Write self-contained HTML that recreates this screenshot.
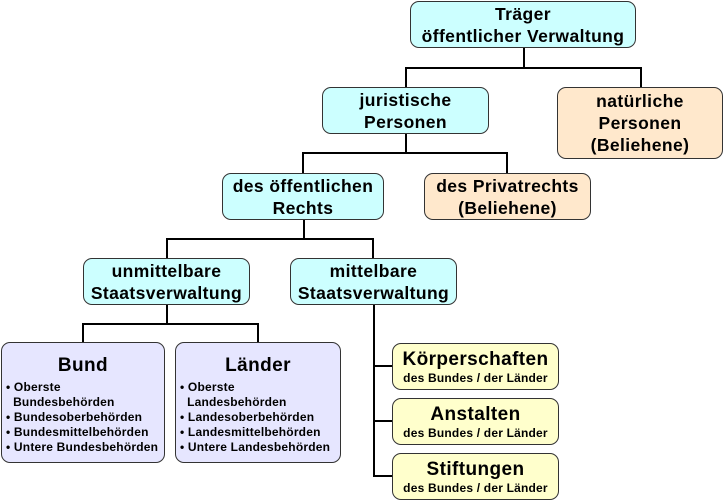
<!DOCTYPE html>
<html><head><meta charset="utf-8"><style>
body{margin:0;width:723px;height:502px;background:#fff;position:relative;overflow:hidden;font-family:"Liberation Sans",Arial,sans-serif;font-weight:bold;color:#000}
.b{position:absolute;box-sizing:border-box;border:1px solid #333;border-radius:9px;display:flex;flex-direction:column;justify-content:center;align-items:center;text-align:center;font-size:17.5px;line-height:22px;letter-spacing:0.4px;white-space:nowrap}
.c{background:#ccffff}.p{background:#ffe8cc}.l{background:#e6e6ff}.y{background:#ffffcc}
.h{position:absolute;background:#000}
.s{font-size:12px;line-height:14px;letter-spacing:0.2px}
.list{font-size:12px;line-height:15px;text-align:left;align-self:flex-start;margin-left:4px;letter-spacing:0.2px}
</style></head><body>
<div class="h" style="left:523px;top:47px;width:2px;height:21px"></div>
<div class="h" style="left:405px;top:67px;width:237px;height:2px"></div>
<div class="h" style="left:405px;top:67px;width:2px;height:20px"></div>
<div class="h" style="left:640px;top:67px;width:2px;height:20px"></div>
<div class="h" style="left:405px;top:134px;width:2px;height:20px"></div>
<div class="h" style="left:302px;top:152px;width:206px;height:2px"></div>
<div class="h" style="left:302px;top:152px;width:2px;height:21px"></div>
<div class="h" style="left:506px;top:152px;width:2px;height:21px"></div>
<div class="h" style="left:303px;top:220px;width:2px;height:19px"></div>
<div class="h" style="left:166px;top:238px;width:208px;height:2px"></div>
<div class="h" style="left:166px;top:238px;width:2px;height:20px"></div>
<div class="h" style="left:372px;top:238px;width:2px;height:20px"></div>
<div class="h" style="left:166px;top:305px;width:2px;height:19px"></div>
<div class="h" style="left:82px;top:323px;width:177px;height:2px"></div>
<div class="h" style="left:82px;top:323px;width:2px;height:19px"></div>
<div class="h" style="left:257px;top:323px;width:2px;height:19px"></div>
<div class="h" style="left:373px;top:305px;width:2px;height:172px"></div>
<div class="h" style="left:373px;top:365px;width:19px;height:2px"></div>
<div class="h" style="left:373px;top:420px;width:19px;height:2px"></div>
<div class="h" style="left:373px;top:475px;width:19px;height:2px"></div>

<div class="b c" style="left:410px;top:1px;width:226px;height:47px">Träger<br>öffentlicher Verwaltung</div>
<div class="b c" style="left:322px;top:87px;width:167px;height:47px">juristische<br>Personen</div>
<div class="b p" style="left:557px;top:87px;width:166px;height:72px">natürliche<br>Personen<br>(Beliehene)</div>
<div class="b c" style="left:222px;top:173px;width:162px;height:47px">des öffentlichen<br>Rechts</div>
<div class="b p" style="left:424px;top:173px;width:167px;height:47px">des Privatrechts<br>(Beliehene)</div>
<div class="b c" style="left:83px;top:258px;width:167px;height:47px">unmittelbare<br>Staatsverwaltung</div>
<div class="b c" style="left:290px;top:258px;width:167px;height:47px">mittelbare<br>Staatsverwaltung</div>
<div class="b l" style="left:1px;top:342px;width:164px;height:121px;justify-content:flex-start;padding-top:12px"><div style="font-size:19px;line-height:22px;margin-bottom:3px">Bund</div><div class="list"><div>• Oberste</div><div>&nbsp;&nbsp;Bundesbehörden</div><div>• Bundesoberbehörden</div><div>• Bundesmittelbehörden</div><div>• Untere Bundesbehörden</div></div></div>
<div class="b l" style="left:175px;top:342px;width:166px;height:121px;justify-content:flex-start;padding-top:12px"><div style="font-size:19px;line-height:22px;margin-bottom:3px">Länder</div><div class="list"><div>• Oberste</div><div>&nbsp;&nbsp;Landesbehörden</div><div>• Landesoberbehörden</div><div>• Landesmittelbehörden</div><div>• Untere Landesbehörden</div></div></div>
<div class="b y" style="left:392px;top:343px;width:167px;height:47px"><div style="font-size:19px">Körperschaften</div><div class="s">des Bundes / der Länder</div></div>
<div class="b y" style="left:392px;top:398px;width:167px;height:47px"><div style="font-size:19px">Anstalten</div><div class="s">des Bundes / der Länder</div></div>
<div class="b y" style="left:392px;top:453px;width:167px;height:47px"><div style="font-size:19px">Stiftungen</div><div class="s">des Bundes / der Länder</div></div>
</body></html>
